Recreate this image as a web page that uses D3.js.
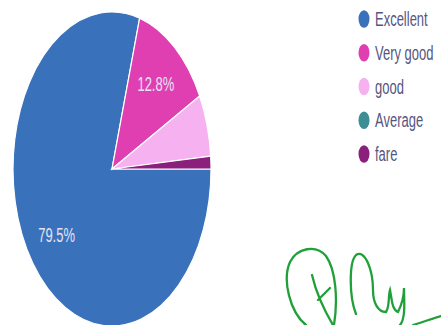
<!DOCTYPE html>
<html>
<head>
<meta charset="utf-8">
<script src="https://cdn.jsdelivr.net/npm/d3@7"></script>
<style>
  html, body { margin: 0; padding: 0; background: #fff; }
  svg { display: block; }
</style>
</head>
<body>
<svg id="chart" width="441" height="325"></svg>
<script>
const categories = ["Excellent", "Very good", "good", "Average", "fare"];
const values = [79.5, 12.8, 6.4, 0, 1.3];
const colors = ["#3a71bb", "#e03fb2", "#f6b2f0", "#3b8e93", "#8a1f7c"];

const svg = d3.select("#chart");
const cx = 112, cy = 169, rx = 99, ry = 157;
const stretch = ry / rx; // the photographed chart is stretched vertically

const pie = d3.pie().sort(null).value(d => d.v)
  .startAngle(Math.PI / 2).endAngle(Math.PI / 2 + 2 * Math.PI);
const data = categories.map((c, i) => ({ c, v: values[i], col: colors[i] }));
const arcs = pie(data);
const arc = d3.arc().innerRadius(0).outerRadius(rx);
const labelArc = d3.arc().innerRadius(rx * 0.7).outerRadius(rx * 0.7);

const g = svg.append("g")
  .attr("transform", `translate(${cx},${cy}) scale(1,${stretch})`);
g.selectAll("path").data(arcs.filter(a => a.data.v > 0)).join("path")
  .attr("d", arc)
  .attr("fill", d => d.data.col)
  .attr("stroke", "#fff")
  .attr("stroke-width", 1.2)
  .attr("vector-effect", "non-scaling-stroke");

const fontFam = "'Liberation Sans', Arial, sans-serif";
const total = d3.sum(values);
svg.append("g").selectAll("text")
  .data(arcs.filter(a => a.data.v / total >= 0.1)).join("text")
  .attr("transform", d => {
    const [x, y] = labelArc.centroid(d);
    return `translate(${cx + x},${cy + y * stretch}) scale(1,${stretch})`;
  })
  .attr("text-anchor", "middle")
  .attr("dominant-baseline", "central")
  .attr("font-family", fontFam)
  .attr("font-size", 13)
  .attr("fill", "#e2e4f2")
  .text(d => d.data.v.toFixed(1) + "%");

// Legend
const legY = d3.scalePoint().domain(categories).range([19, 154]);
const leg = svg.append("g").selectAll("g").data(data).join("g")
  .attr("transform", d => `translate(364,${legY(d.c)}) scale(1,${stretch})`);
leg.append("circle").attr("r", 5.5).attr("fill", d => d.col);
leg.append("text")
  .attr("x", 11).attr("y", 0)
  .attr("dominant-baseline", "central")
  .attr("font-family", fontFam)
  .attr("font-size", 13)
  .attr("fill", "#55557f")
  .text(d => d.c);

// Handwritten signature (decoration)
svg.append("path")
  .attr("d", "M312,275 C316,292 324,310 333,325 M318,300 C322,296 326,292 330,288 M306,325 C290,312 282,280 290,262 C297,248 316,244 326,256 C336,270 338,300 334,325 M356,314 C349,296 349,262 356,255 C365,249 373,270 373,290 C373,303 378,312 386,312 C390,306 388,296 390,290 C392,300 392,310 398,312 C402,304 404,294 404,288 C404,300 406,318 400,325 M413,325 C422,322 432,319 441,316")
  .attr("fill", "none")
  .attr("stroke", "#21a03a")
  .attr("stroke-width", 2.3)
  .attr("stroke-linecap", "round");
</script>
</body>
</html>
